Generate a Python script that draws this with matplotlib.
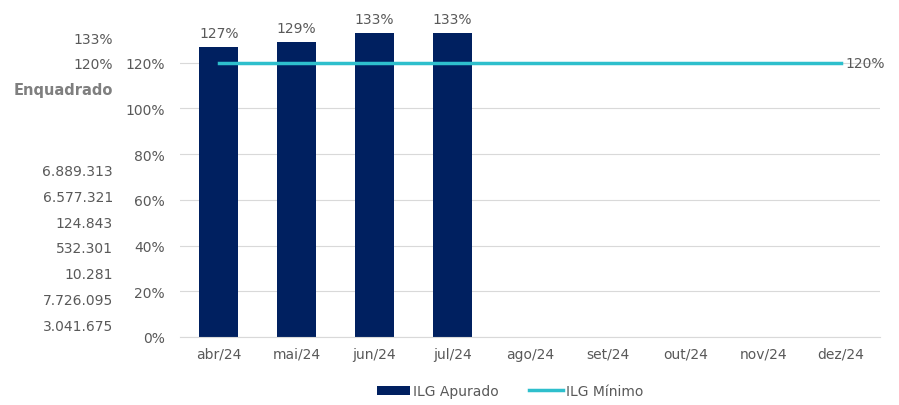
import numpy as np
import matplotlib.pyplot as plt

months = ["abr/24", "mai/24", "jun/24", "jul/24", "ago/24", "set/24", "out/24", "nov/24", "dez/24"]
ilg_apurado = [127, 129, 133, 133, None, None, None, None, None]
ilg_minimo = [120] * 9
side_top = ["133%", "120%"]
side_numbers = ["6.889.313", "6.577.321", "124.843", "532.301", "10.281", "7.726.095", "3.041.675"]

NAVY = "#002060"
TEAL = "#2EBFCC"
GREY = "#595959"

plt.rcParams["font.family"] = ["DejaVu Sans"]
plt.rcParams["font.size"] = 10

fig = plt.figure(figsize=(8.99, 4.06), dpi=100)
ax = fig.add_axes([180 / 899, 1 - 338 / 406, 700 / 899, 320 / 406])

x = np.arange(len(months))
vals = np.array([np.nan if v is None else v for v in ilg_apurado], dtype=float)
bars = ax.bar(x, vals, width=0.5, color=NAVY, label="ILG Apurado", zorder=2)
line, = ax.plot(x, ilg_minimo, color=TEAL, lw=2.5, label="ILG Mínimo", zorder=3)

for xi, v in zip(x, vals):
    if not np.isnan(v):
        ax.text(xi, v + 3, f"{v:.0f}%", ha="center", va="bottom", color=GREY)
ax.text(x[-1] + 0.06, ilg_minimo[-1], f"{ilg_minimo[-1]}%", ha="left", va="center", color=GREY)

ax.set_xlim(-0.5, len(months) - 0.5)
ax.set_ylim(0, 140)
ax.set_yticks(np.arange(0, 121, 20))
ax.set_yticklabels([f"{t}%" for t in range(0, 121, 20)])
ax.set_xticks(x)
ax.set_xticklabels(months)
ax.tick_params(length=0, colors=GREY, labelsize=10)
ax.tick_params(axis="y", pad=11)
ax.tick_params(axis="x", pad=7)
ax.grid(axis="y", color="#D9D9D9", lw=0.8, zorder=0)
for s in ["top", "right", "left"]:
    ax.spines[s].set_visible(False)
ax.spines["bottom"].set_color("#D9D9D9")

# side table texts
fig.text(113 / 899, 1 - 40 / 406, side_top[0], ha="right", va="center", color=GREY)
fig.text(113 / 899, 1 - 65 / 406, side_top[1], ha="right", va="center", color=GREY)
fig.text(113 / 899, 1 - 91 / 406, "Enquadrado", ha="right", va="center", color="#7F7F7F",
         fontweight="bold", fontsize=10.5)
for i, s in enumerate(side_numbers):
    fig.text(113 / 899, 1 - (172 + i * 25.8) / 406, s, ha="right", va="center", color=GREY)

leg = fig.legend([bars, line], ["ILG Apurado", "ILG Mínimo"], loc="center",
                 bbox_to_anchor=(510 / 899, 1 - 392 / 406), ncol=2, frameon=False,
                 handlelength=2.4, handleheight=0.6, handletextpad=0.2, columnspacing=2.2)
for t in leg.get_texts():
    t.set_color(GREY)

fig.savefig("out.png", dpi=100)
